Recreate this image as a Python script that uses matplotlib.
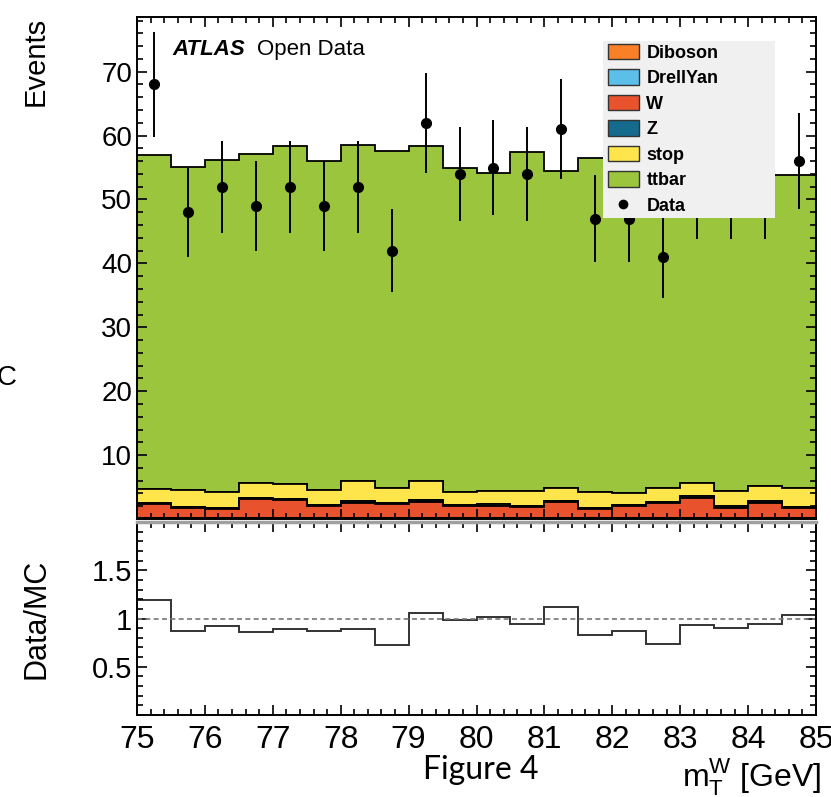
import numpy as np
import matplotlib
matplotlib.use("Agg")
import matplotlib.pyplot as plt
from matplotlib.patches import Patch, Rectangle
from matplotlib.lines import Line2D
from matplotlib.ticker import MultipleLocator, FixedLocator, FuncFormatter

plt.rcParams["font.family"] = ["Liberation Sans", "DejaVu Sans"]
plt.rcParams["mathtext.fontset"] = "custom"
plt.rcParams["mathtext.rm"] = "Liberation Sans"

# m_T^W binning: 20 bins of 0.5 GeV between 75 and 85
edges = np.linspace(75, 85, 21)
centers = 0.5 * (edges[:-1] + edges[1:])

# Stacked MC (bottom -> top), events per bin
diboson = [0.06, 0.05, 0.06, 0.05, 0.06, 0.05, 0.06, 0.05, 0.06, 0.05,
           0.06, 0.05, 0.06, 0.05, 0.06, 0.05, 0.06, 0.05, 0.06, 0.05]
drellyan = [0.04, 0.03, 0.04, 0.03, 0.04, 0.03, 0.04, 0.03, 0.04, 0.03,
            0.04, 0.03, 0.04, 0.03, 0.04, 0.03, 0.04, 0.03, 0.04, 0.03]
w_jets = [2.25, 1.7, 1.45, 3.0, 2.9, 1.9, 2.45, 2.25, 2.55, 1.95,
          1.9, 1.8, 2.5, 1.45, 1.9, 2.4, 3.2, 1.7, 2.45, 1.7]
z_jets = [0.2, 0.15, 0.2, 0.25, 0.2, 0.15, 0.2, 0.2, 0.25, 0.2,
          0.35, 0.2, 0.25, 0.15, 0.2, 0.2, 0.25, 0.2, 0.2, 0.15]
stop = [2.15, 2.55, 2.55, 2.35, 2.2, 2.35, 3.15, 2.35, 3.05, 1.95,
        2.05, 2.3, 2.05, 2.5, 1.85, 2.2, 2.05, 2.4, 2.35, 2.95]
ttbar = [52.2, 50.6, 51.9, 51.4, 53.0, 51.6, 52.7, 52.7, 52.45, 50.7,
         49.7, 53.0, 49.6, 52.3, 50.25, 50.5, 49.2, 52.3, 48.7, 48.9]

data = [68, 48, 52, 49, 52, 49, 52, 42, 62, 54,
        55, 54, 61, 47, 47, 41, 51, 51, 51, 56]

labels = ["Diboson", "DrellYan", "W", "Z", "stop", "ttbar"]
colors = ["#f98026", "#5bbfea", "#e8522d", "#146b8e", "#fde54b", "#9bc53d"]
samples = [diboson, drellyan, w_jets, z_jets, stop, ttbar]

mc_total = np.sum(np.array(samples), axis=0)
data = np.array(data, dtype=float)
ratio = data / mc_total

W, H = 831, 797
fig = plt.figure(figsize=(W / 100, H / 100), dpi=100)


def px_axes(x0, y0, x1, y1):
    return fig.add_axes([x0 / W, 1 - y1 / H, (x1 - x0) / W, (y1 - y0) / H])


ax = px_axes(137, 17, 816, 519)
rax = px_axes(137, 522, 816, 715)

# main panel
ax.hist([centers] * len(samples), bins=edges, weights=samples, stacked=True,
        histtype="stepfilled", color=colors, edgecolor="black", linewidth=1.3)
ax.errorbar(centers, data, yerr=np.sqrt(data), fmt="o", color="black",
            ms=7, elinewidth=1.4, capsize=0, zorder=3)

ax.set_xlim(75, 85)
ax.set_ylim(0, 78.56)
ax.yaxis.set_major_locator(FixedLocator([10, 20, 30, 40, 50, 60, 70]))
ax.yaxis.set_minor_locator(MultipleLocator(2))
ax.xaxis.set_major_locator(MultipleLocator(1))
ax.xaxis.set_minor_locator(MultipleLocator(0.2))
ax.tick_params(axis="both", which="both", direction="in", top=True, right=True,
               labelbottom=False, labelsize=20, width=1.2)
ax.tick_params(which="major", length=7.5)
ax.tick_params(which="minor", length=4)
for s in ax.spines.values():
    s.set_linewidth(1.4)

ax.text(0.052, 0.925, "ATLAS", transform=ax.transAxes, fontsize=16,
        fontweight="bold", fontstyle="italic", va="baseline")
ax.text(0.177, 0.925, "Open Data", transform=ax.transAxes, fontsize=16,
        va="baseline")

# legend box
ax.add_patch(Rectangle((0.686, 0.5996), 0.254, 0.3524, transform=ax.transAxes,
                       facecolor="#f0f0f0", edgecolor="none", zorder=4.9))
handles = [Patch(facecolor=c, edgecolor="#333333", linewidth=1.0) for c in colors]
handles.append(Line2D([], [], marker="o", color="black", ls="none", ms=6))
leg = ax.legend(handles, labels + ["Data"], loc="upper left",
                bbox_to_anchor=(0.693, 0.947), borderaxespad=0, frameon=False,
                prop={"size": 13, "weight": "bold"}, handlelength=1.75,
                handleheight=0.95, labelspacing=0.42, handletextpad=0.4,
                borderpad=0.0)
leg.set_zorder(5)

ax.set_ylabel("Events", fontsize=21, loc="top")

# ratio panel
rax.stairs(ratio, edges, color="#333333", linewidth=1.4)
rax.axhline(1, color="#777777", ls="--", lw=1.2, dashes=(3, 2))
rax.set_xlim(75, 85)
rax.set_ylim(0, 2)
rax.yaxis.set_major_locator(FixedLocator([0.5, 1.0, 1.5]))
rax.yaxis.set_minor_locator(MultipleLocator(0.1))
rax.yaxis.set_major_formatter(FuncFormatter(lambda v, p: f"{v:g}"))
rax.xaxis.set_major_locator(MultipleLocator(1))
rax.xaxis.set_minor_locator(MultipleLocator(0.2))
rax.tick_params(axis="both", which="both", direction="in", top=True, right=True,
                labelsize=21, width=1.2)
rax.tick_params(axis="x", labelsize=23, pad=7)
rax.tick_params(which="major", length=7.5)
rax.tick_params(which="minor", length=4)
for s in rax.spines.values():
    s.set_linewidth(1.4)
rax.spines["top"].set_color("#a0a0a0")
rax.spines["top"].set_linewidth(2.5)
rax.set_ylabel("Data/MC", fontsize=22)
rax.yaxis.set_label_coords(-0.126, 0.5)
ax.yaxis.set_label_coords(-0.128, 1.0)

fig.text(821 / W, 1 - 786 / H, r"m$_{\mathrm{T}}^{\mathrm{W}}$ [GeV]", fontsize=23,
         ha="right", va="baseline")
fig.text(481 / W, 1 - 779 / H, "Figure 4", fontsize=23, ha="center",
         va="baseline", family=["Lato", "DejaVu Sans"])
# fragment of a cut-off glyph at the left edge of the original screenshot
fig.text(-3 / W, 1 - 385 / H, "C", fontsize=20, ha="left", va="baseline")

fig.savefig("out.png", dpi=100)
